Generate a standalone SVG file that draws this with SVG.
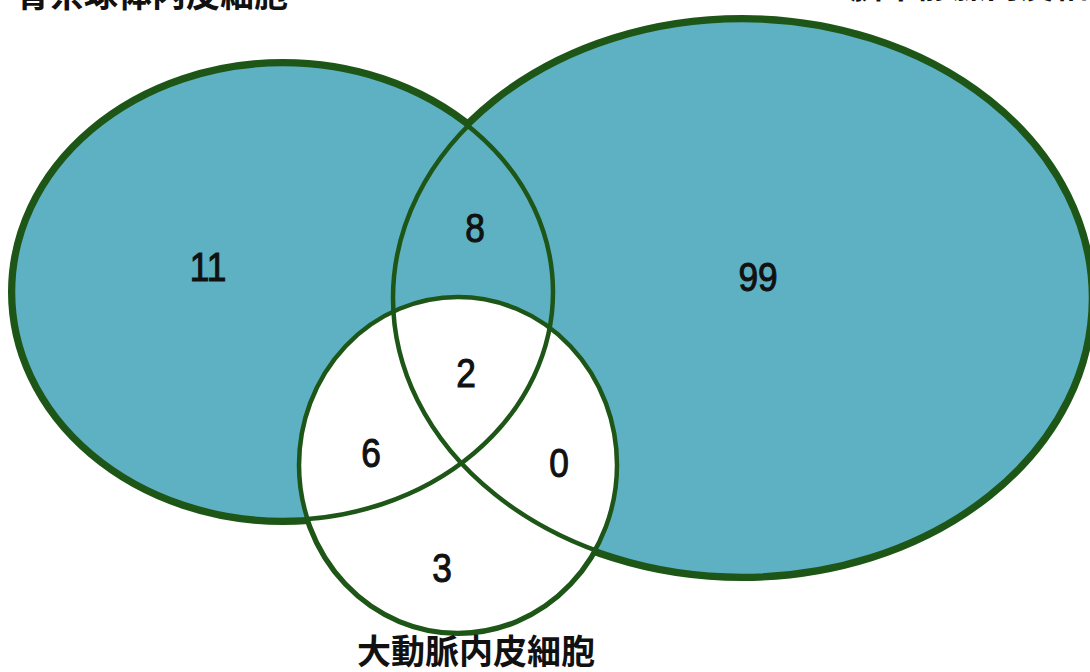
<svg xmlns="http://www.w3.org/2000/svg" xmlns:xlink="http://www.w3.org/1999/xlink" width="1090" height="672" viewBox="0 0 1090 672">
<style>
.outerL{fill:none;stroke:#1d5616;stroke-width:10}
.outerC{fill:none;stroke:#1d5616;stroke-width:6}
.line{fill:none;stroke:#1d5616;stroke-width:4.5}
.teal{fill:#5eb1c2;stroke:none}
.white{fill:#ffffff;stroke:none}
.num{font-family:"Liberation Sans",Arial,sans-serif;font-size:41px;fill:#111;stroke:#111;stroke-width:1.1;text-anchor:middle}
.lab{font-family:"Noto Sans CJK JP","Noto Sans CJK SC",sans-serif;font-size:34px;font-weight:bold;fill:#111}
</style>
<defs>
<ellipse id="eL" cx="283" cy="292" rx="270" ry="228"/>
<ellipse id="eR" cx="742" cy="298" rx="349" ry="278"/>
<ellipse id="eC" cx="458" cy="465" rx="159" ry="168"/>
</defs>
<rect width="1090" height="672" fill="#ffffff"/>
<g id="outer-strokes">
<use xlink:href="#eL" class="outerL"/>
<use xlink:href="#eR" class="outerL"/>
<use xlink:href="#eC" class="outerC"/>
</g>
<g id="fills">
<use xlink:href="#eL" class="teal"/>
<use xlink:href="#eR" class="teal"/>
<use xlink:href="#eC" class="white"/>
</g>
<g id="set-glomerular">
<use xlink:href="#eL" class="line"/>
<text class="lab" x="16" y="7">腎糸球体内皮細胞</text>
</g>
<g id="set-umbilical">
<use xlink:href="#eR" class="line"/>
<text class="lab" x="850" y="-2">臍帯静脈内皮細胞</text>
</g>
<g id="set-aortic">
<use xlink:href="#eC" class="line"/>
<text class="lab" x="357" y="664">大動脈内皮細胞</text>
</g>
<g id="region-counts">
<text class="num" transform="translate(208,281) scale(0.86,1)">11</text>
<text class="num" transform="translate(475,242) scale(0.86,1)">8</text>
<text class="num" transform="translate(758,291) scale(0.86,1)">99</text>
<text class="num" transform="translate(466,387) scale(0.86,1)">2</text>
<text class="num" transform="translate(371,467) scale(0.86,1)">6</text>
<text class="num" transform="translate(559,477) scale(0.86,1)">0</text>
<text class="num" transform="translate(442,582) scale(0.86,1)">3</text>
</g>
</svg>
